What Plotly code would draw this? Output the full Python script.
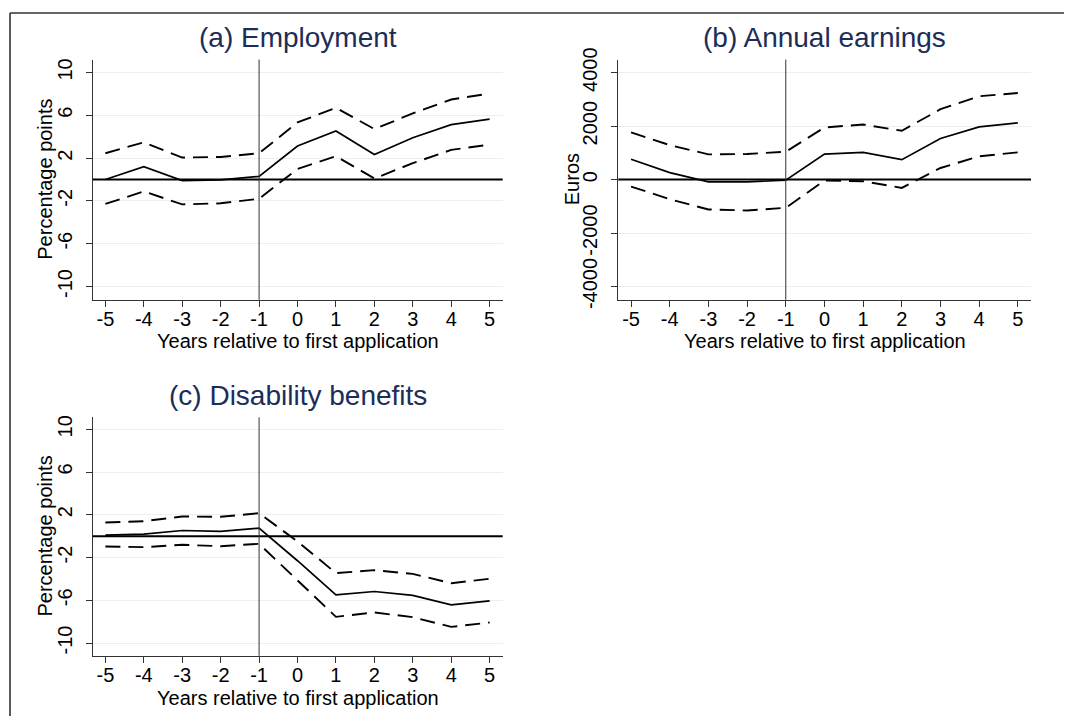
import plotly.graph_objects as go

years = [-5, -4, -3, -2, -1, 0, 1, 2, 3, 4, 5]
year_labels = ["-5", "-4", "-3", "-2", "-1", "0", "1", "2", "3", "4", "5"]

# (a) Employment, percentage points
emp_est = [0.0, 1.2, -0.1, -0.03, 0.28, 3.13, 4.53, 2.33, 3.9, 5.12, 5.64]
emp_hi = [2.45, 3.47, 2.05, 2.1, 2.45, 5.33, 6.7, 4.71, 6.17, 7.47, 8.03]
emp_lo = [-2.29, -1.12, -2.33, -2.23, -1.8, 0.99, 2.17, 0.09, 1.52, 2.76, 3.26]

# (b) Annual earnings, euros
earn_est = [760, 260, -87, -87, -20, 956, 1019, 745, 1540, 1975, 2124]
earn_hi = [1764, 1292, 944, 956, 1043, 1950, 2062, 1826, 2634, 3118, 3242]
earn_lo = [-261, -733, -1118, -1155, -1056, -37, -62, -311, 435, 870, 1019]

# (c) Disability benefits, percentage points
dis_est = [0.09, 0.19, 0.53, 0.44, 0.75, -2.3, -5.49, -5.18, -5.55, -6.43, -6.05]
dis_hi = [1.28, 1.4, 1.84, 1.81, 2.15, -0.5, -3.46, -3.18, -3.53, -4.4, -3.99]
dis_lo = [-0.97, -1.03, -0.81, -0.94, -0.72, -4.1, -7.55, -7.14, -7.58, -8.49, -8.08]

titles = ["(a) Employment", "(b) Annual earnings", "(c) Disability benefits"]
ytitles = ["Percentage points", "Euros", "Percentage points"]
xtitle = "Years relative to first application"
pp_ticks = [-10, -6, -2, 2, 6, 10]
pp_labels = ["-10", "-6", "-2", "2", "6", "10"]
euro_ticks = [-4000, -2000, 0, 2000, 4000]
euro_labels = ["-4000", "-2000", "0", "2000", "4000"]

W, H = 1066, 727
FONT = "Liberation Sans, Arial, sans-serif"
NAVY = "#1c2d57"
GRID = "#e8f0f2"
DASH = "15px,8px"

# vertical correction for the capture (observed: shown = 0.973 * set + 10.6)
Y_SCALE, Y_OFF = 0.973, 10.6


def px(xp):
    return xp / W


def py(yp_ref):
    ys = (yp_ref - Y_OFF) / Y_SCALE
    return min(max(1 - ys / H, 0.0), 1.0)


fig = go.Figure()

panels = [
    dict(est=emp_est, hi=emp_hi, lo=emp_lo, ticks=pp_ticks, labels=pp_labels, rng=[-11.25, 11.2],
         x0=92.7, x1=502.7, y0=58.3, y1=299.0, title=titles[0], yt=ytitles[0], ytx=45.0,
         xty=340.0, tty=36.0),
    dict(est=earn_est, hi=earn_hi, lo=earn_lo, ticks=euro_ticks, labels=euro_labels, rng=[-4500, 4490],
         x0=618.3, x1=1031.0, y0=58.3, y1=299.0, title=titles[1], yt=ytitles[1], ytx=571.5,
         xty=340.5, tty=36.0),
    dict(est=dis_est, hi=dis_hi, lo=dis_lo, ticks=pp_ticks, labels=pp_labels, rng=[-11.2, 11.12],
         x0=92.7, x1=502.7, y0=416.7, y1=655.7, title=titles[2], yt=ytitles[2], ytx=45.0,
         xty=698.3, tty=395.0),
]

layout = dict(
    width=W, height=H,
    margin=dict(l=0, r=0, t=0, b=0),
    paper_bgcolor="white", plot_bgcolor="white",
    showlegend=False,
    font=dict(family=FONT, color="black", size=20),
    shapes=[], annotations=[],
)

for i, p in enumerate(panels):
    n = "" if i == 0 else str(i + 1)
    xa, ya = "x" + n, "y" + n
    for ys, dash, w in [(p["hi"], DASH, 1.9), (p["lo"], DASH, 1.9), (p["est"], "solid", 1.7)]:
        fig.add_trace(go.Scatter(x=years, y=ys, mode="lines", xaxis=xa, yaxis=ya,
                                 line=dict(color="black", width=w, dash=dash),
                                 hoverinfo="skip"))
    layout["xaxis" + n] = dict(
        domain=[px(p["x0"]), px(p["x1"])], anchor=ya, range=[-5.33, 5.34],
        tickmode="array", tickvals=years, ticktext=year_labels,
        ticks="outside", ticklen=6, tickcolor="#333", showline=True, linecolor="#333",
        linewidth=1.2, showgrid=False, zeroline=False, tickfont=dict(size=20),
        ticklabelstandoff=-5,
    )
    layout["yaxis" + n] = dict(
        domain=[py(p["y1"]), py(p["y0"])], anchor=xa, range=p["rng"],
        tickmode="array", tickvals=p["ticks"], ticktext=p["labels"],
        ticks="outside", ticklen=6, tickcolor="#333", showline=True, linecolor="#333",
        linewidth=1.2, showgrid=True, gridcolor=GRID, gridwidth=1.2, zeroline=False,
        tickangle=-90, tickfont=dict(size=20), ticklabelstandoff=6,
    )
    layout["shapes"].append(dict(type="line", xref=xa + " domain", yref=ya, x0=0, x1=1, y0=0, y1=0,
                                 line=dict(color="black", width=2), layer="above"))
    layout["shapes"].append(dict(type="line", xref=xa, yref=ya + " domain", x0=-1, x1=-1, y0=0, y1=1,
                                 line=dict(color="#333", width=1), layer="above"))
    cx = (p["x0"] + p["x1"]) / 2
    cy = (p["y0"] + p["y1"]) / 2
    layout["annotations"].append(dict(text=p["title"], xref="paper", yref="paper",
                                      x=px(cx), y=py(p["tty"]), xanchor="center", yanchor="middle",
                                      showarrow=False, font=dict(size=28, color=NAVY)))
    layout["annotations"].append(dict(text=p["yt"], xref="paper", yref="paper", textangle=-90,
                                      x=px(p["ytx"]), y=py(cy), xanchor="center", yanchor="middle",
                                      showarrow=False, font=dict(size=20, color="black")))
    layout["annotations"].append(dict(text=xtitle, xref="paper", yref="paper",
                                      x=px(cx), y=py(p["xty"]), xanchor="center", yanchor="middle",
                                      showarrow=False, font=dict(size=20, color="black")))

# outer frame (kept inside the paper)
layout["shapes"].append(dict(type="line", xref="paper", yref="paper", x0=px(10), x1=px(W - 2),
                             y0=1 - 1.0 / H, y1=1 - 1.0 / H, line=dict(color="#333", width=1.6)))
layout["shapes"].append(dict(type="line", xref="paper", yref="paper", x0=px(10), x1=px(10),
                             y0=2.0 / H, y1=1 - 1.0 / H, line=dict(color="#333", width=1.6)))

fig.update_layout(**layout)
fig.write_html("out.html", config={"displayModeBar": False},
               post_script="document.body.style.margin='0';document.body.style.overflow='hidden';")
